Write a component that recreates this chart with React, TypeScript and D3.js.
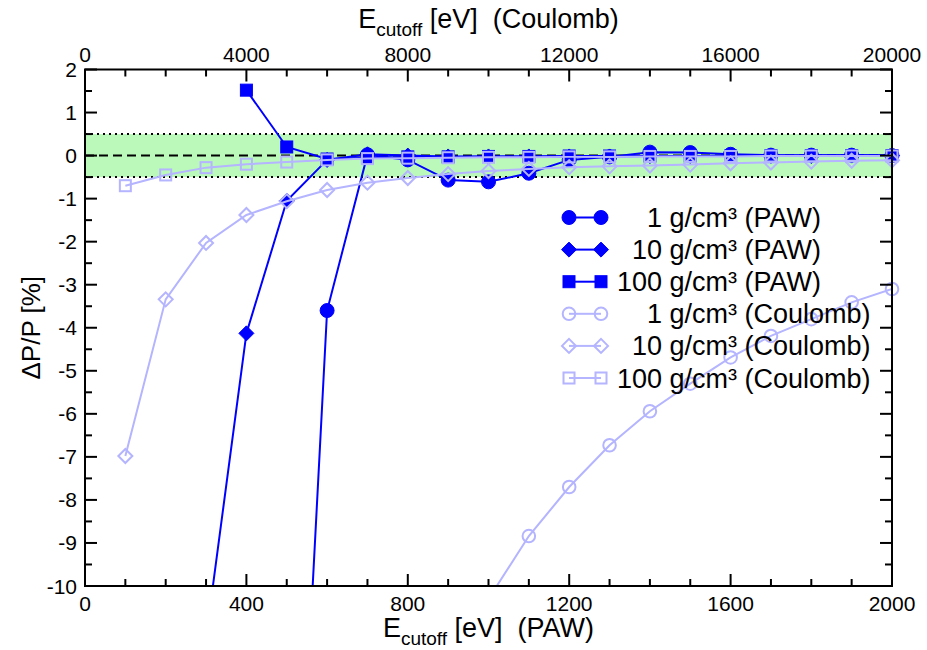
import React from "react";
import * as d3 from "d3";

// ---------- data ----------
const pawX1 = [500, 600, 700, 800, 900, 1000, 1100, 1200, 1300, 1400, 1500, 1600, 1700, 1800, 1900, 2000];
const paw1 = [-21.5, -3.6, 0.02, -0.1, -0.57, -0.61, -0.41, -0.1, -0.03, 0.08, 0.07, 0.03, 0.01, 0.01, 0.01, 0.0];

const pawX10 = [300, 400, 500, 600, 700, 800, 900, 1000, 1100, 1200, 1300, 1400, 1500, 1600, 1700, 1800, 1900, 2000];
const paw10 = [-11.2, -4.13, -1.05, -0.1, 0.03, 0.0, -0.02, -0.02, -0.02, -0.02, -0.02, -0.01, -0.01, -0.01, -0.01, -0.01, 0.0, 0.0];

const pawX100 = [400, 500, 600, 700, 800, 900, 1000, 1100, 1200, 1300, 1400, 1500, 1600, 1700, 1800, 1900, 2000];
const paw100 = [1.52, 0.2, -0.08, -0.05, -0.03, -0.03, -0.02, -0.02, -0.01, -0.01, -0.01, -0.01, -0.01, 0.0, 0.0, 0.0, 0.0];

const coulX1 = [10000, 11000, 12000, 13000, 14000, 15000, 16000, 17000, 18000, 19000, 20000];
const coul1 = [-10.3, -8.84, -7.7, -6.73, -5.94, -5.3, -4.69, -4.19, -3.8, -3.41, -3.1];

const coulX = [1000, 2000, 3000, 4000, 5000, 6000, 7000, 8000, 9000, 10000, 11000, 12000, 13000, 14000, 15000, 16000, 17000, 18000, 19000, 20000];
const coul10 = [-6.98, -3.34, -2.03, -1.38, -1.06, -0.8, -0.63, -0.52, -0.43, -0.36, -0.31, -0.27, -0.25, -0.23, -0.21, -0.18, -0.16, -0.14, -0.12, -0.11];
const coul100 = [-0.7, -0.45, -0.28, -0.2, -0.15, -0.1, -0.07, -0.06, -0.05, -0.04, -0.04, -0.03, -0.03, -0.02, -0.02, -0.02, -0.01, -0.01, -0.01, -0.01];

const bottomTicks = [0, 400, 800, 1200, 1600, 2000];
const topTicks = [0, 4000, 8000, 12000, 16000, 20000];
const yTicks = [2, 1, 0, -1, -2, -3, -4, -5, -6, -7, -8, -9, -10];

const legendLabels = [
  "    1 g/cm³ (PAW)",
  "  10 g/cm³ (PAW)",
  "100 g/cm³ (PAW)",
  "    1 g/cm³ (Coulomb)",
  "  10 g/cm³ (Coulomb)",
  "100 g/cm³ (Coulomb)",
];

// ---------- layout ----------
const W = 927, H = 650;
const L = 85, R = 892, T = 69.5, B = 586;
const DARK = "#0000ff";
const LIGHT = "#b4b4ff";
const FONT = "'Liberation Sans', Arial, Helvetica, sans-serif";

const x = d3.scaleLinear().domain([0, 2000]).range([L, R]);
const xTop = d3.scaleLinear().domain([0, 20000]).range([L, R]);
const y = d3.scaleLinear().domain([-10, 2]).range([B, T]);

type Shape = "circle" | "diamond" | "square";

function Marker({ shape, cx, cy, filled, color }: { shape: Shape; cx: number; cy: number; filled: boolean; color: string }) {
  const fill = filled ? color : "none";
  const sw = filled ? 1 : 2;
  if (shape === "circle") {
    return <circle cx={cx} cy={cy} r={filled ? 7 : 6.3} fill={fill} stroke={color} strokeWidth={sw} />;
  }
  if (shape === "square") {
    const s = filled ? 12 : 11;
    return <rect x={cx - s / 2} y={cy - s / 2} width={s} height={s} fill={fill} stroke={color} strokeWidth={sw} />;
  }
  const d = filled ? 7.5 : 7;
  return (
    <path
      d={`M${cx},${cy - d}L${cx + d},${cy}L${cx},${cy + d}L${cx - d},${cy}Z`}
      fill={fill}
      stroke={color}
      strokeWidth={sw}
    />
  );
}

type Series = { xs: number[]; ys: number[]; sx: d3.ScaleLinear<number, number>; shape: Shape; filled: boolean; color: string };

const series: Series[] = [
  { xs: pawX1, ys: paw1, sx: x, shape: "circle", filled: true, color: DARK },
  { xs: pawX10, ys: paw10, sx: x, shape: "diamond", filled: true, color: DARK },
  { xs: pawX100, ys: paw100, sx: x, shape: "square", filled: true, color: DARK },
  { xs: coulX1, ys: coul1, sx: xTop, shape: "circle", filled: false, color: LIGHT },
  { xs: coulX, ys: coul10, sx: xTop, shape: "diamond", filled: false, color: LIGHT },
  { xs: coulX, ys: coul100, sx: xTop, shape: "square", filled: false, color: LIGHT },
];

function range(a: number, b: number, step: number) {
  const out: number[] = [];
  for (let v = a; v <= b + 1e-9; v += step) out.push(v);
  return out;
}

export default function App() {
  const minorX = range(0, 2000, 100);
  const minorY = range(-10, 2, 0.5);
  return (
    <svg width={W} height={H} style={{ display: "block", position: "absolute", left: 0, top: 0, background: "#fff" }} fontFamily={FONT}>
      <defs>
        <clipPath id="plot">
          <rect x={L} y={T} width={R - L} height={B - T} />
        </clipPath>
      </defs>
      <rect x={0} y={0} width={W} height={H} fill="#fff" />
      {/* tolerance band */}
      <rect x={L} y={y(0.5)} width={R - L} height={y(-0.5) - y(0.5)} fill="#bbf9bb" />
      <line x1={L} x2={R} y1={y(0.5)} y2={y(0.5)} stroke="#000" strokeWidth={2} strokeDasharray="2 4" />
      <line x1={L} x2={R} y1={y(-0.5)} y2={y(-0.5)} stroke="#000" strokeWidth={2} strokeDasharray="2 4" />
      <line x1={L} x2={R} y1={y(0)} y2={y(0)} stroke="#000" strokeWidth={2} strokeDasharray="9 5" />

      {/* series */}
      {series.map((s, i) => {
        const pts: [number, number][] = s.xs.map((v, j) => [s.sx(v), y(s.ys[j])]);
        const line = d3.line()(pts) || "";
        return (
          <g key={i}>
            <path d={line} fill="none" stroke={s.color} strokeWidth={2} clipPath="url(#plot)" />
            {pts.map((p, j) =>
              s.ys[j] >= -10 && s.ys[j] <= 2 ? (
                <Marker key={j} shape={s.shape} cx={p[0]} cy={p[1]} filled={s.filled} color={s.color} />
              ) : null
            )}
          </g>
        );
      })}

      {/* frame */}
      <rect x={L} y={T} width={R - L} height={B - T} fill="none" stroke="#000" strokeWidth={2} />

      {/* bottom/top ticks */}
      {minorX.map((v) => {
        const major = v % 400 === 0;
        const len = major ? 12 : 7;
        return <line key={"bx" + v} x1={x(v)} x2={x(v)} y1={B} y2={B - len} stroke="#000" strokeWidth={2} />;
      })}
      {range(0, 20000, 1000).map((v) => {
        const major = v % 4000 === 0;
        const len = major ? 12 : 7;
        return <line key={"tx" + v} x1={xTop(v)} x2={xTop(v)} y1={T} y2={T + len} stroke="#000" strokeWidth={2} />;
      })}
      {minorY.map((v) => {
        const major = Math.abs(v - Math.round(v)) < 1e-9;
        const len = major ? 12 : 7;
        return (
          <g key={"y" + v}>
            <line x1={L} x2={L + len} y1={y(v)} y2={y(v)} stroke="#000" strokeWidth={2} />
            <line x1={R} x2={R - len} y1={y(v)} y2={y(v)} stroke="#000" strokeWidth={2} />
          </g>
        );
      })}

      {/* tick labels */}
      {bottomTicks.map((v) => (
        <text key={"bl" + v} x={x(v)} y={611} fontSize={21} textAnchor="middle" fill="#000">
          {v}
        </text>
      ))}
      {topTicks.map((v) => (
        <text key={"tl" + v} x={xTop(v)} y={62} fontSize={21} textAnchor="middle" fill="#000">
          {v}
        </text>
      ))}
      {yTicks.map((v) => (
        <text key={"yl" + v} x={77} y={y(v) + 7.5} fontSize={21} textAnchor="end" fill="#000">
          {v}
        </text>
      ))}

      {/* axis titles */}
      <text x={(L + R) / 2} y={637} fontSize={27} textAnchor="middle" fill="#000" style={{ whiteSpace: "pre" }}>
        E<tspan fontSize={19} dy={8}>cutoff</tspan>
        <tspan dy={-8}>{" [eV]  (PAW)"}</tspan>
      </text>
      <text x={(L + R) / 2} y={27.5} fontSize={27} textAnchor="middle" fill="#000" style={{ whiteSpace: "pre" }}>
        E<tspan fontSize={19} dy={8}>cutoff</tspan>
        <tspan dy={-8}>{" [eV]  (Coulomb)"}</tspan>
      </text>
      <text transform={`translate(40,${(T + B) / 2}) rotate(-90)`} fontSize={26} textAnchor="middle" fill="#000">
        ΔP/P [%]
      </text>

      {/* legend */}
      {series.map((s, i) => {
        const cy = 217.5 + i * 32.1;
        return (
          <g key={"lg" + i}>
            <line x1={569} x2={601} y1={cy} y2={cy} stroke={s.color} strokeWidth={2} />
            <Marker shape={s.shape} cx={569} cy={cy} filled={s.filled} color={s.color} />
            <Marker shape={s.shape} cx={601} cy={cy} filled={s.filled} color={s.color} />
            <text x={617} y={cy + 9.5} fontSize={27} fill="#000" style={{ whiteSpace: "pre" }}>
              {legendLabels[i]}
            </text>
          </g>
        );
      })}
    </svg>
  );
}
